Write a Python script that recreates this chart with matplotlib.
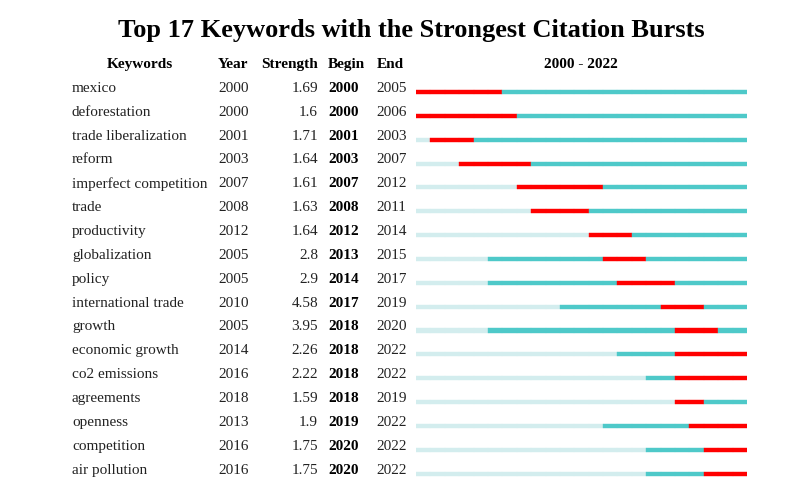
import matplotlib
matplotlib.use("Agg")
import matplotlib.pyplot as plt
from matplotlib.transforms import blended_transform_factory

keywords = ["mexico", "deforestation", "trade liberalization", "reform",
            "imperfect competition", "trade", "productivity", "globalization",
            "policy", "international trade", "growth", "economic growth",
            "co2 emissions", "agreements", "openness", "competition", "air pollution"]
years = [2000, 2000, 2001, 2003, 2007, 2008, 2012, 2005, 2005, 2010, 2005, 2014,
         2016, 2018, 2013, 2016, 2016]
strengths = ["1.69", "1.6", "1.71", "1.64", "1.61", "1.63", "1.64", "2.8", "2.9",
             "4.58", "3.95", "2.26", "2.22", "1.59", "1.9", "1.75", "1.75"]
begins = [2000, 2000, 2001, 2003, 2007, 2008, 2012, 2013, 2014, 2017, 2018, 2018,
          2018, 2018, 2019, 2020, 2020]
ends = [2005, 2006, 2003, 2007, 2012, 2011, 2014, 2015, 2017, 2019, 2020, 2022,
        2022, 2019, 2022, 2022, 2022]
start_year, end_year = 2000, 2022

W, H = 802, 484
fig = plt.figure(figsize=(W / 100, H / 100), dpi=100)
fig.patch.set_facecolor("white")

serif = ["Liberation Serif", "DejaVu Serif"]
LIGHT = "#d3edee"
TEAL = "#4ec9c9"
RED = "#ff0000"

# axes for the bars: x in years, y in rows
left_px, right_px = 416, 747
top_row, bot_row = -1.6, 16.3
row_px = 23.85
bar0_px = 92
top_px = bar0_px + top_row * row_px
bot_px = bar0_px + bot_row * row_px
ax = fig.add_axes([left_px / W, 1 - bot_px / H, (right_px - left_px) / W, (bot_px - top_px) / H])
ax.set_xlim(start_year, end_year + 1)
ax.set_ylim(bot_row, top_row)
ax.axis("off")

h = 0.17
n = len(keywords)
for i in range(n):
    for yr in range(start_year, end_year + 1):
        if yr < years[i]:
            c = LIGHT
        elif begins[i] <= yr <= ends[i]:
            c = RED
        else:
            c = TEAL
        ax.barh(i, 1, left=yr, height=h, color=c, edgecolor=c, linewidth=0.3)

tr = blended_transform_factory(fig.transFigure, ax.transData)
off = -0.15
fs = 11
for i in range(n):
    y = i + off
    ax.text(72 / W, y, keywords[i], transform=tr, ha="left", va="center",
            fontsize=fs, family=serif, color="#222222")
    ax.text(218 / W, y, str(years[i]), transform=tr, ha="left", va="center",
            fontsize=fs, family=serif, color="#222222")
    ax.text(318 / W, y, strengths[i], transform=tr, ha="right", va="center",
            fontsize=fs, family=serif, color="#222222")
    ax.text(328 / W, y, str(begins[i]), transform=tr, ha="left", va="center",
            fontsize=fs, family=serif, fontweight="bold", color="black")
    ax.text(376 / W, y, str(ends[i]), transform=tr, ha="left", va="center",
            fontsize=fs, family=serif, color="#222222")

hy = -1 + off
ax.text(139.5 / W, hy, "Keywords", transform=tr, ha="center", va="center",
        fontsize=fs, family=serif, fontweight="bold")
ax.text(218 / W, hy, "Year", transform=tr, ha="left", va="center",
        fontsize=fs, family=serif, fontweight="bold")
ax.text(318 / W, hy, "Strength", transform=tr, ha="right", va="center",
        fontsize=fs, family=serif, fontweight="bold")
ax.text(328 / W, hy, "Begin", transform=tr, ha="left", va="center",
        fontsize=fs, family=serif, fontweight="bold")
ax.text(377 / W, hy, "End", transform=tr, ha="left", va="center",
        fontsize=fs, family=serif, fontweight="bold")
ax.text(580.5 / W, hy, f"{start_year} - {end_year}", transform=tr, ha="center",
        va="center", fontsize=fs, family=serif, fontweight="bold")

fig.text(411 / W, 1 - 30 / H, f"Top {n} Keywords with the Strongest Citation Bursts",
         ha="center", va="center", fontsize=19, family=serif, fontweight="bold")

fig.savefig("out.png", dpi=100, facecolor="white")
